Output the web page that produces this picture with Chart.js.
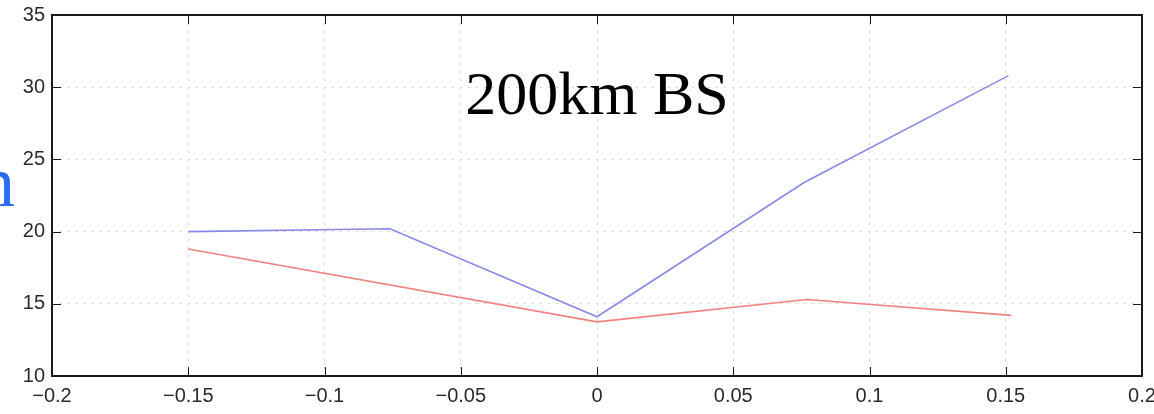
<!DOCTYPE html>
<html>
<head>
<meta charset="utf-8">
<script src="https://cdn.jsdelivr.net/npm/chart.js@4"></script>
<style>
  html, body { margin: 0; padding: 0; background: #fff; }
  canvas { display: block; }
</style>
</head>
<body>
<canvas id="graph" width="1154" height="414"></canvas>
<script>
// données
const blueX = [-0.15, -0.076, 0, 0.076, 0.151];
const blueY = [20.0, 20.2, 14.1, 23.4, 30.8];
const redX = [-0.15, 0, 0.077, 0.152];
const redY = [18.8, 13.75, 15.3, 14.2];
const titleText = '200km BS';
const sideText = 'n';
const xTicks = [-0.2, -0.15, -0.1, -0.05, 0, 0.05, 0.1, 0.15, 0.2];
const yTicks = [10, 15, 20, 25, 30, 35];

const fmt = v => String(Number(v.toFixed(2))).replace('-', '\u2212');

// cadre, petites graduations intérieures et textes
const framePlugin = {
    id: 'frame',
    afterDraw(chart) {
        const { ctx, chartArea: a, scales } = chart;
        ctx.save();
        ctx.strokeStyle = '#1a1a1a';
        ctx.lineWidth = 1;
        ctx.beginPath();
        xTicks.forEach(t => {
            const x = Math.round(scales.x.getPixelForValue(t)) + 0.5;
            ctx.moveTo(x, a.bottom); ctx.lineTo(x, a.bottom - 9);
            ctx.moveTo(x, a.top); ctx.lineTo(x, a.top + 9);
        });
        yTicks.forEach(t => {
            const y = Math.round(scales.y.getPixelForValue(t)) + 0.5;
            ctx.moveTo(a.left, y); ctx.lineTo(a.left + 9, y);
            ctx.moveTo(a.right, y); ctx.lineTo(a.right - 9, y);
        });
        ctx.stroke();
        ctx.lineWidth = 2;
        ctx.strokeRect(a.left, a.top, a.right - a.left, a.bottom - a.top);

        ctx.fillStyle = '#000';
        ctx.font = '62px "Liberation Serif", serif';
        ctx.textAlign = 'center';
        ctx.textBaseline = 'alphabetic';
        ctx.fillText(titleText, (a.left + a.right) / 2, 114);

        ctx.fillStyle = '#2a6cf6';
        ctx.font = '72px "Liberation Serif", serif';
        ctx.textAlign = 'right';
        ctx.fillText(sideText, 15, 206);
        ctx.restore();
    }
};

new Chart(document.getElementById('graph'), {
    type: 'line',
    data: {
        datasets: [
            {
                label: 'bleu',
                data: blueX.map((x, i) => ({ x: x, y: blueY[i] })),
                borderColor: '#8a8ae6',
                borderWidth: 1.6,
                pointRadius: 0,
                tension: 0,
            },
            {
                label: 'rouge',
                data: redX.map((x, i) => ({ x: x, y: redY[i] })),
                borderColor: '#f28282',
                borderWidth: 1.6,
                pointRadius: 0,
                tension: 0,
            },
        ],
    },
    options: {
        responsive: false,
        animation: false,
        devicePixelRatio: 1,
        layout: { padding: { top: 15, right: 12, left: 0, bottom: 0 } },
        plugins: { legend: { display: false }, tooltip: { enabled: false } },
        scales: {
            x: {
                type: 'linear',
                min: -0.2,
                max: 0.2,
                afterBuildTicks: s => { s.ticks = xTicks.map(v => ({ value: v })); },
                afterFit: s => { s.height = 38; s.paddingLeft = 0; s.paddingRight = 0; },
                ticks: {
                    callback: v => fmt(v),
                    color: '#2a2a2a',
                    font: { family: '"Liberation Sans", Arial, sans-serif', size: 20 },
                    padding: 8,
                    maxRotation: 0,
                },
                grid: { color: '#d4d4d4', drawTicks: false, lineWidth: 1 },
                border: { display: false, dash: [2, 6] },
            },
            y: {
                min: 10,
                max: 35,
                afterBuildTicks: s => { s.ticks = yTicks.map(v => ({ value: v })); },
                afterFit: s => { s.width = 52; s.paddingTop = 0; s.paddingBottom = 0; },
                ticks: {
                    callback: v => fmt(v),
                    color: '#2a2a2a',
                    font: { family: '"Liberation Sans", Arial, sans-serif', size: 20 },
                    padding: 7,
                },
                grid: { color: '#d4d4d4', drawTicks: false, lineWidth: 1 },
                border: { display: false, dash: [2, 6] },
            },
        },
    },
    plugins: [framePlugin],
});
</script>
</body>
</html>
